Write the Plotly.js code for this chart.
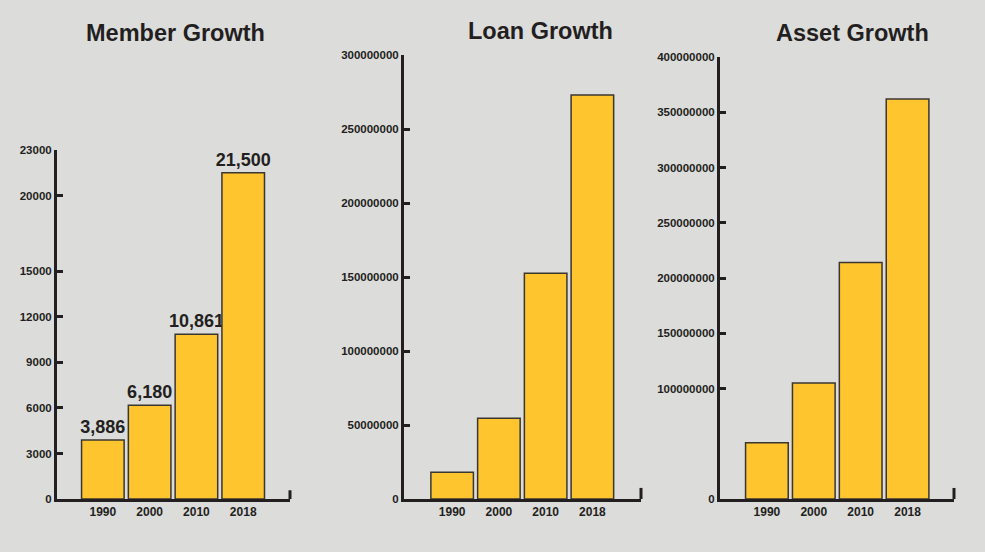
<!DOCTYPE html>
<html>
<head>
<meta charset="utf-8">
<script src="https://cdn.plot.ly/plotly-3.0.1.min.js"></script>
<style>html,body{margin:0;padding:0;background:#dcdcdb;}#chart{width:985px;height:552px;}</style>
</head>
<body>
<div id="chart"></div>
<script>
// ---- data ----
const years = ['1990', '2000', '2010', '2018'];
const members = [3886, 6180, 10861, 21500];
const memberLabels = ['3,886', '6,180', '10,861', '21,500'];
const loans = [18000000, 54500000, 152500000, 273000000];
const assets = [51000000, 105000000, 214000000, 362000000];

const memberTicks = [0, 3000, 6000, 9000, 12000, 15000, 20000, 23000];
const loanTicks = [0, 50000000, 100000000, 150000000, 200000000, 250000000, 300000000];
const assetTicks = [0, 100000000, 150000000, 200000000, 250000000, 300000000, 350000000, 400000000];

const titles = ['Member Growth', 'Loan Growth', 'Asset Growth'];

// ---- style ----
const INK = '#231f20';
const BG = '#dcdcdb';
const BAR = '#fec52e';
const FONT = 'Liberation Sans, Arial, Helvetica, sans-serif';

function barTrace(y, xa, ya, text) {
  const t = {
    type: 'bar', x: years, y: y, xaxis: xa, yaxis: ya,
    width: 0.91,
    marker: {color: BAR, line: {color: '#3a3633', width: 1.5}},
    hoverinfo: 'x+y', cliponaxis: false
  };
  if (text) {
    t.text = text;
    t.textposition = 'outside';
    t.constraintext = 'none';
    t.textfont = {family: FONT, size: 18, color: INK, weight: 700};
  } else {
    t.textposition = 'none';
  }
  return t;
}

const data = [
  barTrace(members, 'x', 'y', memberLabels),
  barTrace(loans, 'x2', 'y2'),
  barTrace(assets, 'x3', 'y3')
];

const H = 552, W = 985;
function xa(dom, rng) {
  return {
    domain: [dom[0] / W, dom[1] / W], type: 'category', range: rng,
    showline: true, linewidth: 3, linecolor: INK, ticks: '', showgrid: false, zeroline: false,
    tickfont: {family: FONT, size: 12, color: INK, weight: 700}, fixedrange: true
  };
}
function ya(top, anchor, rng, tv) {
  return {
    domain: [(H - 499) / H, (H - top) / H], anchor: anchor, range: rng,
    tickvals: tv, ticktext: tv.map(v => String(v)),
    showline: true, linewidth: 3, linecolor: INK, ticks: 'inside', ticklen: 6, tickwidth: 3, tickcolor: INK,
    showgrid: false, zeroline: false,
    tickfont: {family: FONT, size: 11.5, color: INK, weight: 700}, fixedrange: true
  };
}

const layout = {
  width: W, height: H,
  paper_bgcolor: BG, plot_bgcolor: BG,
  margin: {l: 0, r: 0, t: 0, b: 0},
  showlegend: false,
  bargap: 0,
  xaxis: Object.assign(xa([57, 290], [-0.98, 4.0]), {anchor: 'y'}),
  yaxis: ya(150, 'x', [0, 23000], memberTicks),
  xaxis2: Object.assign(xa([404, 641], [-1.03, 4.04]), {anchor: 'y2'}),
  yaxis2: ya(55, 'x2', [0, 300000000], loanTicks),
  xaxis3: Object.assign(xa([720, 954], [-1.0, 3.99]), {anchor: 'y3'}),
  yaxis3: ya(57, 'x3', [0, 400000000], assetTicks),
  annotations: [
    {text: titles[0], x: 175 / W, y: 1 - 33 / H},
    {text: titles[1], x: 540 / W, y: 1 - 31 / H},
    {text: titles[2], x: 852 / W, y: 1 - 33 / H}
  ].map(a => Object.assign(a, {
    xref: 'paper', yref: 'paper', xanchor: 'center', yanchor: 'middle', showarrow: false,
    font: {family: FONT, size: 23.5, color: INK, weight: 700}
  })),
  shapes: ['', '2', '3'].map(s => ({
    type: 'line', xref: 'x' + s + ' domain', yref: 'y' + s + ' domain',
    x0: 1, x1: 1, y0: 0, y1: 0.025, line: {color: INK, width: 3}
  }))
};

Plotly.newPlot('chart', data, layout, {displayModeBar: false, staticPlot: true});
</script>
</body>
</html>
